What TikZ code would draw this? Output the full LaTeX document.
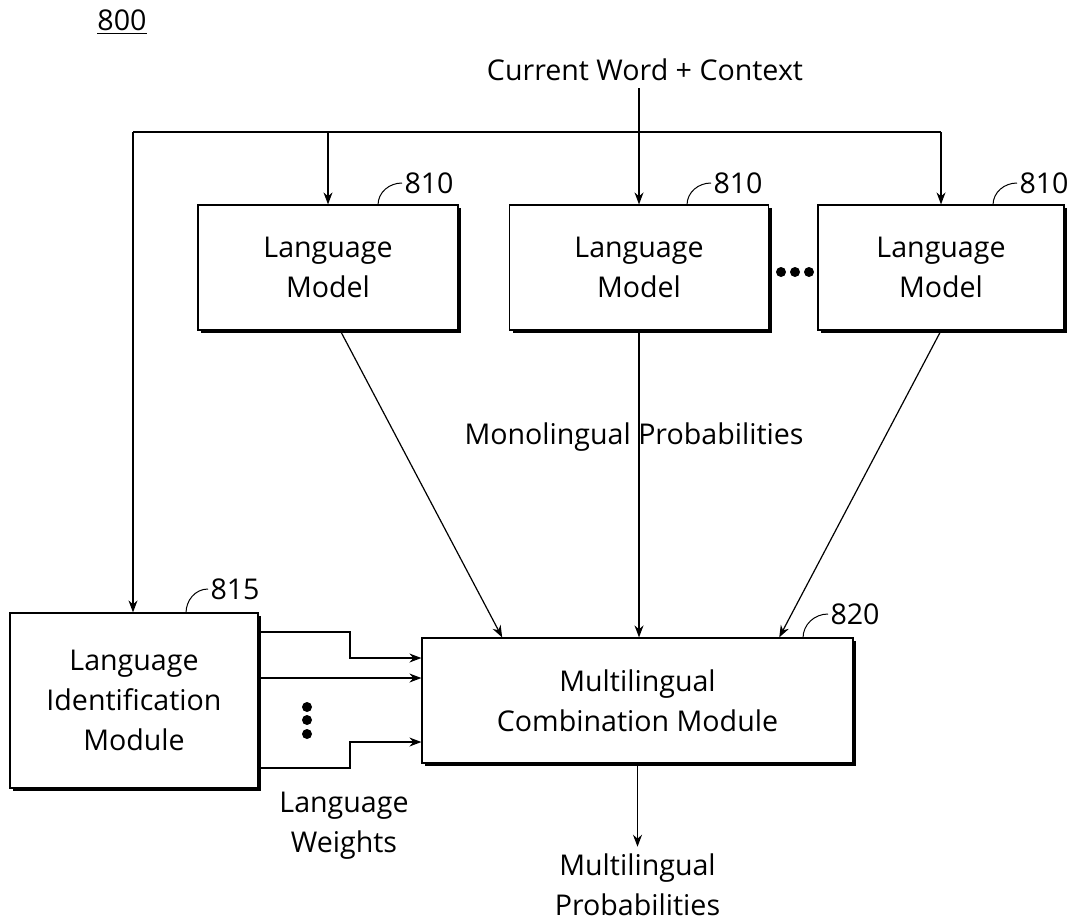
\documentclass[tikz,border=0pt]{standalone}
\usepackage{fontspec}
\setmainfont{Open Sans}
\usetikzlibrary{arrows.meta}
\usetikzlibrary{shadows}

\begin{document}
\begin{tikzpicture}[x=0.5pt,y=-0.5pt,->,>={Stealth[length=6pt,width=4.5pt]},line width=0.6pt,
  font=\fontsize{14.3}{20}\selectfont,
  box node/.style={rectangle,draw,fill=white,align=center,
    drop shadow={shadow xshift=1.6pt,shadow yshift=-1.6pt,fill=black,opacity=1}},
  ref node/.style={anchor=west,inner sep=1pt},
  lead/.style={-,line width=0.5pt}]

\useasboundingbox (0,0) rectangle (1068,921);

\node at (122,22) (fig) {\underline{800}};

% inputs
\node at (645,70) (cwc) {Current Word + Context};

% language models
\node[box node,minimum width=130pt,minimum height=62.5pt] at (328,267.5) (lm1) {Language\\Model};
\node[box node,minimum width=129.5pt,minimum height=62.5pt] at (639,267.5) (lm2) {Language\\Model};
\node[box node,minimum width=123pt,minimum height=62.5pt] at (941,267.5) (lm3) {Language\\Model};

\fill (781,272) circle (5) (795,272) circle (5) (809,272) circle (5);

% identification and combination
\node[box node,minimum width=124pt,minimum height=87.5pt] at (134,700.5) (lim) {Language\\Identification\\Module};
\node[box node,minimum width=215.5pt,minimum height=62.5pt] at (637.5,700.5) (mcm) {Multilingual\\Combination Module};

\node[align=center] at (637.5,885) (mp) {Multilingual\\Probabilities};
\node[align=center] at (344,826) (lw) {Language\\Weights};
\node at (634,437) (mono) {Monolingual Probabilities};

% reference numerals
\draw[lead] (378,205) to[out=90,in=180] (402,183) node[ref node] (r1) {810};
\draw[lead] (687,205) to[out=90,in=180] (711,183) node[ref node] (r2) {810};
\draw[lead] (993,205) to[out=90,in=180] (1017,183) node[ref node] (r3) {810};
\draw[lead] (186,613) to[out=90,in=180] (208,589) node[ref node] (r4) {815};
\draw[lead] (803,638) to[out=90,in=180] (828,614) node[ref node] (r5) {820};

% fan out
\coordinate (tl) at (133,132);
\coordinate (tr) at (lm3.north |- tl);
\draw[-] (tl) -- (tr);
\draw (tl) -- (tl |- lim.north);
\draw (lm1.north |- tl) -- (lm1.north);
\draw (tr) -- (lm3.north);
\draw (lm2.north |- cwc.south) -- (lm2.north);

% model outputs
\draw (lm1.281) -- (mcm.155.6);
\draw (lm2.south) -- (lm2.south |- mcm.north);
\draw (lm3.south) -- (mcm.24.9);
\draw (mcm.south) -- (mp.north);

% language weights
\draw (lim.east |- 0,632) -| (350,658) -- (mcm.west |- 0,658);
\draw (lim.east |- 0,678) -- (mcm.west |- 0,678);
\draw (lim.east |- 0,768) -| (350,742) -- (mcm.west |- 0,742);

\fill (307,707) circle (5) (307,720) circle (5) (307,734) circle (5);

\end{tikzpicture}
\end{document}
